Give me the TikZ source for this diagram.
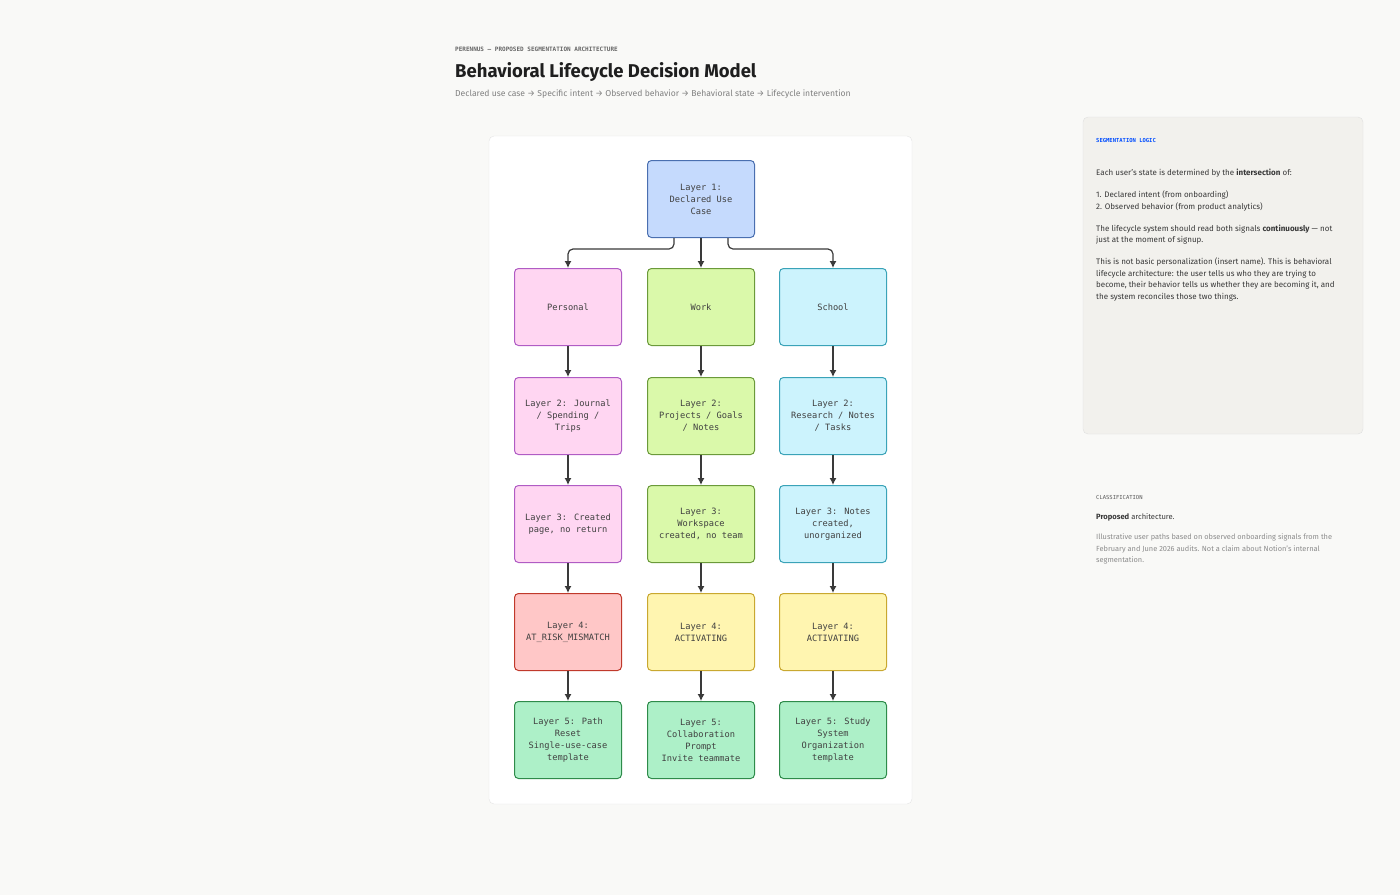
\documentclass[tikz,border=0pt]{standalone}
\usepackage{fontspec}
\setmainfont{Fira Sans}
\newfontfamily\monofont{DejaVu Sans Mono}
\usetikzlibrary{calc,arrows.meta}
\definecolor{pagebg}{HTML}{F9F9F7}
\definecolor{sidebg}{HTML}{F2F1ED}
\definecolor{edgegray}{HTML}{3A3A3A}
\definecolor{pinkF}{HTML}{FFD6F2}\definecolor{pinkD}{HTML}{B05CC4}
\definecolor{greenF}{HTML}{DAF9AA}\definecolor{greenD}{HTML}{6B9A3A}
\definecolor{cyanF}{HTML}{CCF3FD}\definecolor{cyanD}{HTML}{3AA3B8}
\definecolor{blueF}{HTML}{C5DAFD}\definecolor{blueD}{HTML}{4A6FB0}
\definecolor{redF}{HTML}{FFC7C7}\definecolor{redD}{HTML}{C0392B}
\definecolor{yelF}{HTML}{FFF5B0}\definecolor{yelD}{HTML}{C9A830}
\definecolor{mintF}{HTML}{ADF0C8}\definecolor{mintD}{HTML}{2E8B4A}
\tikzset{
  box/.style={draw=#1D, fill=#1F, line width=1pt, rounded corners=4pt,
              minimum width=107pt, minimum height=77pt,
              align=center, font=\monofont\fontsize{8.7}{12}\selectfont, text=black!75},
  link/.style={draw=edgegray, line width=1.2pt, -{Latex[length=7pt,width=7pt]}, rounded corners=5pt},
  note/.style={anchor=north west, align=left, font=\fontsize{8}{11.5}\selectfont, text=black!78}
}
\begin{document}
\begin{tikzpicture}[x=1pt,y=-1pt]
  % page and panels
  \fill[pagebg] (0,0) rectangle (1400,895);
  \filldraw[fill=white, draw=black!10, rounded corners=5pt] (489,136) rectangle (912,804);
  \filldraw[fill=sidebg, draw=black!12, rounded corners=5pt] (1083,117) rectangle (1363,434);

  % heading
  \node[anchor=west, inner sep=0pt, font=\monofont\bfseries\fontsize{6}{7}\selectfont, text=black!60] (kicker) at (455,49) {PERENNUS — PROPOSED SEGMENTATION ARCHITECTURE};
  \node[anchor=west, inner sep=0pt, font=\bfseries\fontsize{18.5}{20}\selectfont, text=black!88] (title) at (455,72) {Behavioral Lifecycle Decision Model};
  \node[anchor=west, inner sep=0pt, font=\fontsize{8.6}{10}\selectfont, text=black!50] (subtitle) at (455,94) {Declared use case → Specific intent → Observed behavior → Behavioral state → Lifecycle intervention};

  % layer 1
  \node[box=blue] (top) at (701,199) {Layer 1:\\Declared Use\\Case};

  % columns
  \node[box=pink]  (p1) at (568,307) {Personal};
  \node[box=green] (w1) at (701,307) {Work};
  \node[box=cyan]  (s1) at (833,307) {School};

  \node[box=pink]  (p2) at (568,416) {Layer 2: Journal\\/ Spending /\\Trips};
  \node[box=green] (w2) at (701,416) {Layer 2:\\Projects / Goals\\/ Notes};
  \node[box=cyan]  (s2) at (833,416) {Layer 2:\\Research / Notes\\/ Tasks};

  \node[box=pink]  (p3) at (568,524) {Layer 3: Created\\page, no return};
  \node[box=green] (w3) at (701,524) {Layer 3:\\Workspace\\created, no team};
  \node[box=cyan]  (s3) at (833,524) {Layer 3: Notes\\created,\\unorganized};

  \node[box=red]   (p4) at (568,632) {Layer 4:\\AT\_RISK\_MISMATCH};
  \node[box=yel]   (w4) at (701,632) {Layer 4:\\ACTIVATING};
  \node[box=yel]   (s4) at (833,632) {Layer 4:\\ACTIVATING};

  \node[box=mint]  (p5) at (568,740) {Layer 5: Path\\Reset\\Single-use-case\\template};
  \node[box=mint]  (w5) at (701,740) {Layer 5:\\Collaboration\\Prompt\\Invite teammate};
  \node[box=mint]  (s5) at (833,740) {Layer 5: Study\\System\\Organization\\template};

  % connectors
  \draw[link] ($(top.south)+(-27,0)$) |- ($(p1.north)+(0,-19)$) -- (p1.north);
  \draw[link] (top.south) -- (w1.north);
  \draw[link] ($(top.south)+(27,0)$) |- ($(s1.north)+(0,-19)$) -- (s1.north);
  \foreach \c in {p,w,s}{
    \draw[link] (\c1) -- (\c2);
    \draw[link] (\c2) -- (\c3);
    \draw[link] (\c3) -- (\c4);
    \draw[link] (\c4) -- (\c5);
  }

  % side notes
  \node[anchor=west, inner sep=0pt, font=\monofont\bfseries\fontsize{5.5}{7}\selectfont, text=blue!70!cyan] (logic) at (1096,140) {SEGMENTATION LOGIC};
  \node[note, inner sep=0pt] (logictext) at (1096,169) {Each user’s state is determined by the \textbf{intersection} of:\\[10.5pt]
    1. Declared intent (from onboarding)\\
    2. Observed behavior (from product analytics)\\[10.5pt]
    The lifecycle system should read both signals \textbf{continuously} — not\\
    just at the moment of signup.\\[10.5pt]
    This is not basic personalization (insert name). This is behavioral\\
    lifecycle architecture: the user tells us who they are trying to\\
    become, their behavior tells us whether they are becoming it, and\\
    the system reconciles those two things.};
  \node[anchor=west, inner sep=0pt, font=\monofont\fontsize{5.5}{7}\selectfont, text=black!65] (class) at (1096,497) {CLASSIFICATION};
  \node[note, inner sep=0pt, font=\fontsize{7.6}{11}\selectfont] (classtext) at (1096,513) {\textbf{Proposed} architecture.};
  \node[note, inner sep=0pt, font=\fontsize{7.4}{11.5}\selectfont, text=black!45] (disclaimer) at (1096,534) {Illustrative user paths based on observed onboarding signals from the\\
    February and June 2026 audits. Not a claim about Notion’s internal\\
    segmentation.};
\end{tikzpicture}
\end{document}
